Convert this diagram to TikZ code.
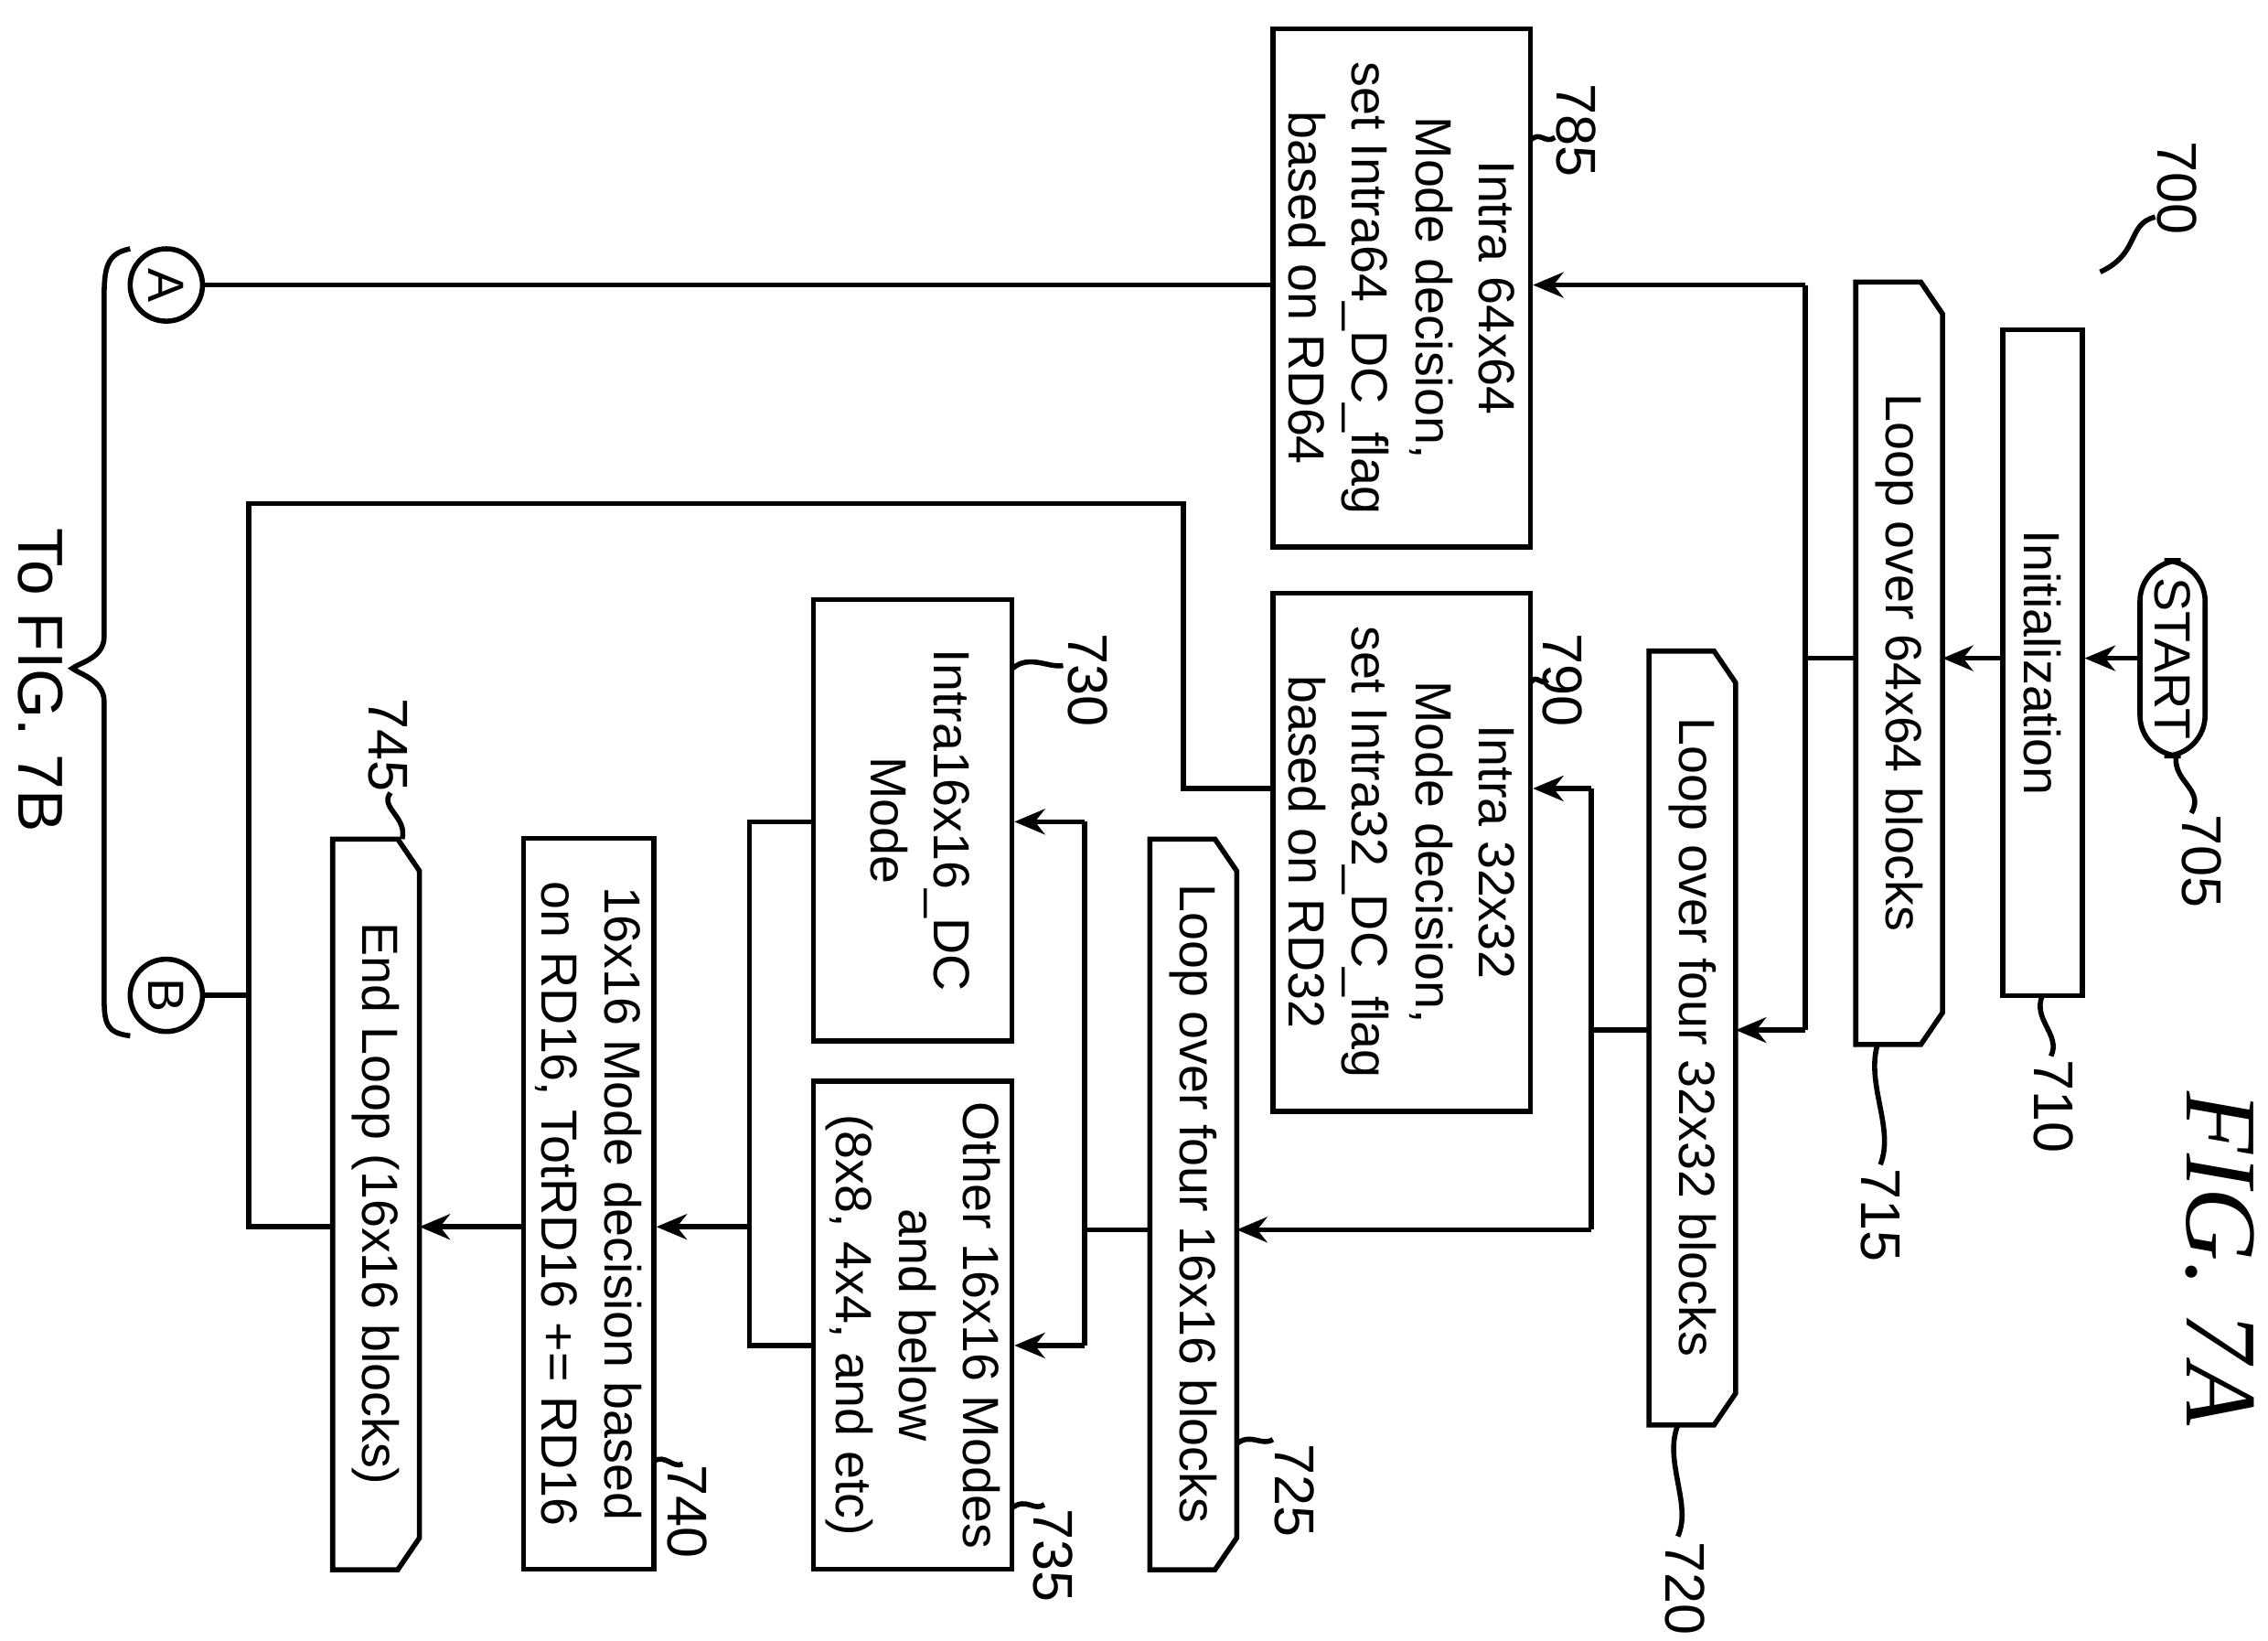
\documentclass[tikz,border=0pt]{standalone}
\usepackage{fontspec}
\setmainfont{Liberation Sans}
\newfontfamily\figfont{Liberation Serif}
\usetikzlibrary{arrows.meta}
\begin{document}
\begin{tikzpicture}[x=0.01cm,y=-0.01cm,
  every node/.style={font=\fontsize{10}{12.5}\selectfont},
  box/.style={draw,line width=1pt,rotate=-90,align=center,inner sep=2pt},
  txt/.style={rotate=-90,align=center},
  lab/.style={rotate=-90,font=\fontsize{11}{12}\selectfont},
  ln/.style={line width=1pt},
  ar/.style={line width=1pt,-{Stealth[length=6pt,width=5pt]}}]
\useasboundingbox (0,0) rectangle (1568,1134);
\newcommand{\lpshape}[4]{\draw[ln] (#1,#3) -- (#2-15,#3) -- (#2,#3+22) -- (#2,#4-22) -- (#2-15,#4) -- (#1,#4) -- cycle;}
% START
\node[draw,line width=1pt,rounded corners=8pt,rotate=-90,minimum width=1.35cm,minimum height=0.45cm,inner sep=1pt] (start) at (1502,455) {START};
\node[box,minimum width=4.6cm,minimum height=0.55cm] (init) at (1412,458) {Initialization};
\lpshape{1283}{1343}{195}{722}
\node[txt] (l64) at (1313,458) {Loop over 64x64 blocks};
\lpshape{1140}{1200}{450}{985}
\node[txt] (l32) at (1170,717) {Loop over four 32x32 blocks};
\node[box,minimum width=3.58cm,minimum height=1.78cm] (b785) at (969,199) {Intra 64x64\\Mode decision,\\set Intra64\_DC\_flag\\based on RD64};
\node[box,minimum width=3.58cm,minimum height=1.78cm] (b790) at (969,589) {Intra 32x32\\Mode decision,\\set Intra32\_DC\_flag\\based on RD32};
\lpshape{795}{855}{580}{1085}
\node[txt] (l16) at (825,832) {Loop over four 16x16 blocks};
\node[box,minimum width=3.05cm,minimum height=1.37cm] (b730) at (631,567) {};
\node[txt] (t730txt) at (636,567) {Intra16x16\_DC\\Mode};
\node[box,minimum width=3.37cm,minimum height=1.37cm] (b735) at (631,916) {Other 16x16 Modes\\and below\\(8x8, 4x4, and etc)};
\node[box,minimum width=5.05cm,minimum height=0.9cm] (b740) at (407,832) {16x16 Mode decision based\\on RD16, TotRD16 += RD16};
\lpshape{230}{290}{580}{1085}
\node[txt] (l745) at (260,832) {End Loop (16x16 blocks)};
\node[draw,circle,line width=1pt,minimum size=0.5cm,inner sep=0pt,rotate=-90] (A) at (115,197) {A};
\node[draw,circle,line width=1pt,minimum size=0.5cm,inner sep=0pt,rotate=-90] (B) at (115,688) {B};
% connectors
\coordinate (j1) at (1248,455);
\coordinate (j2) at (1100,712);
\coordinate (j3) at (750,850);
\coordinate (j4) at (518,848);
\draw[ar] (start.south) -- (init.north |- start.south);
\draw[ar] (init.south |- 0,455) -- (1343,455);
\draw[ln] (1283,455) -- (j1);
\draw[ar] (1248,197) -- (b785.north |- 0,197);
\draw[ln] (1248,197) -- (1248,712);
\draw[ar] (1248,712) -- (1200,712);
\draw[ln] (1140,712) -- (j2);
\draw[ar] (1100,545) -- (b790.north |- 0,545);
\draw[ln] (1100,545) -- (1100,850);
\draw[ar] (1100,850) -- (855,850);
\draw[ln] (795,850) -- (j3);
\draw[ln] (750,568) -- (750,930);
\draw[ar] (750,568) -- (b730.north |- 0,568);
\draw[ar] (750,930) -- (b735.north |- 0,930);
\draw[ln] (b730.south |- 0,568) -- (518,568) -- (518,930) -- (b735.south |- 0,930);
\draw[ar] (j4) -- (b740.north |- 0,848);
\draw[ar] (b740.south |- 0,848) -- (290,848);
\draw[ln] (230,848) -- (172,848) -- (172,348) -- (818,348) -- (818,545) -- (b790.south |- 0,545);
\draw[ln] (B.north) -- (172,688);
\draw[ln] (b785.south |- 0,197) -- (A.north);
% brace
\draw[ln] (90,172) .. controls (74,175) and (72,185) .. (72,205) -- (72,440) .. controls (72,455) and (55,458) .. (50,462) .. controls (55,466) and (72,470) .. (72,485) -- (72,690) .. controls (72,708) and (74,714) .. (90,716);
\node[lab,font=\fontsize{12.5}{14}\selectfont] (to) at (28,470) {To FIG. 7B};
% labels
\node[lab] (t705) at (1522,595) {705};
\draw[ln] (1515,562) .. controls (1525,545) and (1500,540) .. (1505,520);
\node[lab] (t710) at (1420,765) {710};
\draw[ln] (1418,730) .. controls (1425,715) and (1405,705) .. (1412,688);
\node[lab] (t715) at (1300,840) {715};
\draw[ln] (1300,805) .. controls (1310,780) and (1290,750) .. (1298,722);
\node[lab] (t720) at (1165,1098) {720};
\draw[ln] (1160,1062) .. controls (1170,1040) and (1150,1010) .. (1160,985);
\node[lab] (t725) at (895,1030) {725};
\draw[ln] (880,995) .. controls (872,1000) and (865,990) .. (855,998);
\node[lab] (t730) at (752,470) {730};
\draw[ln] (735,460) .. controls (725,462) and (712,452) .. (700,462);
\node[lab] (t735) at (728,1075) {735};
\draw[ln] (722,1040) .. controls (715,1045) and (710,1035) .. (700,1042);
\node[lab] (t740) at (475,1045) {740};
\draw[ln] (472,1012) .. controls (465,1015) and (460,1005) .. (452,1010);
\node[lab] (t745) at (268,515) {745};
\draw[ln] (270,548) .. controls (262,558) and (282,565) .. (278,580);
\node[lab] (t785) at (1090,90) {785};
\draw[ln] (1075,95) .. controls (1068,100) and (1065,90) .. (1058,97);
\node[lab] (t790) at (1080,470) {790};
\draw[ln] (1070,470) .. controls (1065,475) and (1063,465) .. (1058,472);
\node[lab] (t700) at (1505,130) {700};
\draw[ln] (1490,150) .. controls (1470,155) and (1480,175) .. (1452,188);
\node[rotate=-90,font=\fontsize{20}{24}\figfont\itshape] (fig) at (1535,870) {FIG. 7A};
\end{tikzpicture}
\end{document}
